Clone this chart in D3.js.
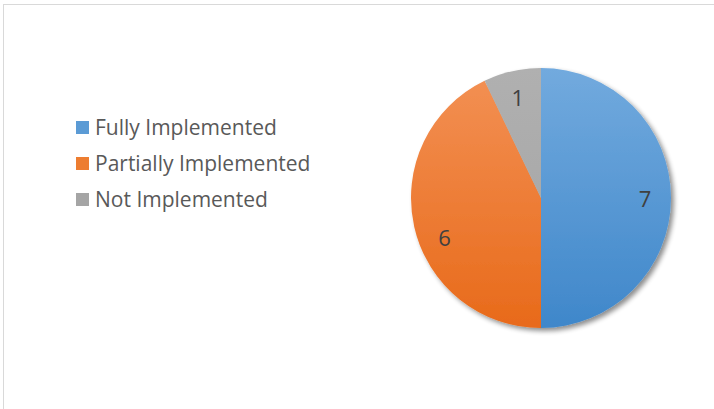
<!DOCTYPE html>
<html>
<head>
<meta charset="utf-8">
<script src="https://cdn.jsdelivr.net/npm/d3@7"></script>
<style>
html,body{margin:0;padding:0;background:#fff;}
svg{display:block;}
</style>
</head>
<body>
<svg id="chart" width="714" height="409"></svg>
<script>
const categories = ["Fully Implemented", "Partially Implemented", "Not Implemented"];
const values = [7, 6, 1];
const topColors = ["#72aade", "#f39155", "#b0b0b0"];
const bottomColors = ["#3f87ca", "#e86a1a", "#a3a3a3"];
const legendSwatch = ["#5b9bd5", "#ed7d31", "#a5a5a5"];

const svg = d3.select("#chart");
const W = 714, H = 409;
const cx = 541, cy = 198, r = 130;
const FONT = "'Open Sans', Lato, sans-serif";

svg.append("rect").attr("x", 3.5).attr("y", 4.5).attr("width", W + 10).attr("height", H + 10)
  .attr("fill", "#fff").attr("stroke", "#d9d9d9").attr("stroke-width", 1);

const defs = svg.append("defs");
const f = defs.append("filter").attr("id", "sh").attr("x", "-20%").attr("y", "-20%").attr("width", "140%").attr("height", "140%");
f.append("feGaussianBlur").attr("in", "SourceAlpha").attr("stdDeviation", 2.5).attr("result", "b");
f.append("feOffset").attr("in", "b").attr("dx", 3).attr("dy", 3).attr("result", "o");
f.append("feComponentTransfer").attr("in", "o").attr("result", "o2")
  .append("feFuncA").attr("type", "linear").attr("slope", 0.45);
const m = f.append("feMerge");
m.append("feMergeNode").attr("in", "o2");
m.append("feMergeNode").attr("in", "SourceGraphic");

categories.forEach((c, i) => {
  const g = defs.append("linearGradient").attr("id", "g" + i)
    .attr("gradientUnits", "userSpaceOnUse")
    .attr("x1", 0).attr("y1", -r).attr("x2", 0).attr("y2", r);
  g.append("stop").attr("offset", 0).attr("stop-color", topColors[i]);
  g.append("stop").attr("offset", 1).attr("stop-color", bottomColors[i]);
});

const pie = d3.pie().sort(null).value(d => d.v);
const data = pie(categories.map((c, i) => ({c, v: values[i], i})));
const arc = d3.arc().innerRadius(0).outerRadius(r);

const pg = svg.append("g").attr("transform", `translate(${cx},${cy})`);
pg.append("g").attr("filter", "url(#sh)")
  .selectAll("path").data(data).join("path")
  .attr("d", arc)
  .attr("fill", d => `url(#g${d.data.i})`);

// label placement (Excel best-fit style): small angular nudge per slice
const labelShiftDeg = [0, -9, 0];
const labelR = r * 0.8;
function labelPos(d) {
  const a = (d.startAngle + d.endAngle) / 2 + labelShiftDeg[d.data.i] * Math.PI / 180;
  return [labelR * Math.sin(a), -labelR * Math.cos(a)];
}
pg.selectAll("text.lbl").data(data).join("text")
  .attr("class", "lbl")
  .attr("x", d => labelPos(d)[0])
  .attr("y", d => labelPos(d)[1])
  .attr("text-anchor", "middle")
  .attr("dominant-baseline", "central")
  .attr("font-family", FONT)
  .attr("font-size", 22)
  .attr("fill", "#404040")
  .text(d => d.data.v);

const lg = svg.append("g");
const rows = lg.selectAll("g").data(categories).join("g")
  .attr("transform", (d, i) => `translate(76,${121 + i * 36})`);
rows.append("rect").attr("width", 13).attr("height", 13)
  .attr("fill", (d, i) => legendSwatch[i]);
rows.append("text").attr("x", 19).attr("y", 13.5)
  .attr("font-family", FONT)
  .attr("font-size", 21)
  .attr("fill", "#595959")
  .text(d => d);
</script>
</body>
</html>
